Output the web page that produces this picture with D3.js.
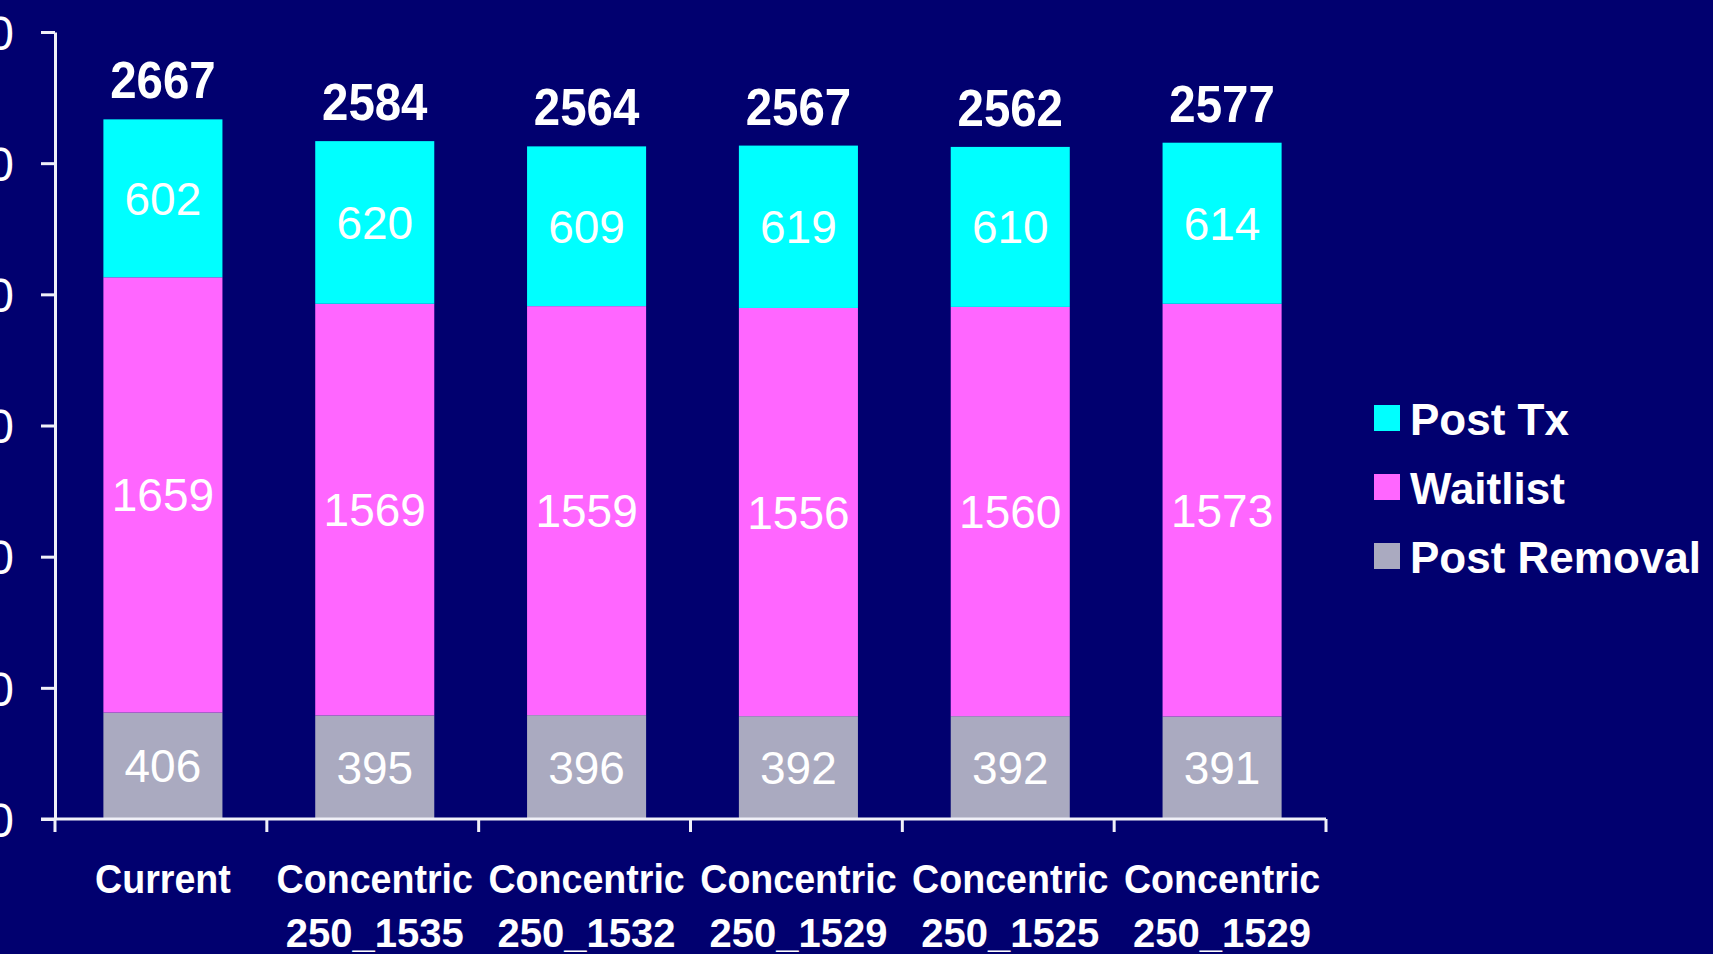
<!DOCTYPE html>
<html>
<head>
<meta charset="utf-8">
<script src="https://cdn.jsdelivr.net/npm/d3@7"></script>
<style>
  html, body { margin: 0; padding: 0; background: #01006F; }
  svg { display: block; }
  text { font-family: "Liberation Sans", Arial, sans-serif; fill: #FFFFFF; }
</style>
</head>
<body>
<script>
// ---- data ----
const categories = ["Current", "Concentric 250_1535", "Concentric 250_1532", "Concentric 250_1529", "Concentric 250_1525", "Concentric 250_1529 "];
const categoryLines = [["Current"], ["Concentric", "250_1535"], ["Concentric", "250_1532"], ["Concentric", "250_1529"], ["Concentric", "250_1525"], ["Concentric", "250_1529"]];
const postRemoval = [406, 395, 396, 392, 392, 391];
const waitlist = [1659, 1569, 1559, 1556, 1560, 1573];
const postTx = [602, 620, 609, 619, 610, 614];
const totals = [2667, 2584, 2564, 2567, 2562, 2577];
const yTicks = [0, 500, 1000, 1500, 2000, 2500, 3000];
const seriesNames = ["Post Removal", "Waitlist", "Post Tx"];
const seriesColors = ["#AAAAC0", "#FF66FF", "#00FFFF"];
const legendOrder = ["Post Tx", "Waitlist", "Post Removal"];

// ---- layout ----
const W = 1713, H = 954;
const svg = d3.select("body").append("svg").attr("width", W).attr("height", H);
svg.append("rect").attr("width", W).attr("height", H).attr("fill", "#01006F");

const x0 = 55, x1 = 1326, yTop = 32, yBot = 819;
const x = d3.scaleBand().domain(categories).range([x0 + 2, x1 + 2]).paddingInner(0.438).paddingOuter(0.219);
const y = d3.scaleLinear().domain([0, 3000]).range([yBot, yTop]);

const rows = categories.map((c, i) => ({cat: c, "Post Removal": postRemoval[i], "Waitlist": waitlist[i], "Post Tx": postTx[i]}));
const stack = d3.stack().keys(seriesNames)(rows);
const color = d3.scaleOrdinal().domain(seriesNames).range(seriesColors);

// bars
const layers = svg.append("g").selectAll("g").data(stack).join("g").attr("fill", d => color(d.key));
layers.selectAll("rect").data(d => d).join("rect")
  .attr("x", d => x(d.data.cat))
  .attr("width", x.bandwidth())
  .attr("y", d => y(d[1]))
  .attr("height", d => y(d[0]) - y(d[1]));

// text helper
function stxt(g, tx, ty, str, size, weight, sx, anchor) {
  return g.append("text")
    .attr("transform", `translate(${tx},${ty}) scale(${sx},1)`)
    .attr("text-anchor", anchor || "middle")
    .attr("font-size", size).attr("font-weight", weight).text(str);
}
// segment labels
const lbl = svg.append("g");
stack.forEach(layer => {
  layer.forEach(d => {
    const cx = x(d.data.cat) + x.bandwidth() / 2;
    const cy = (y(d[0]) + y(d[1])) / 2;
    stxt(lbl, cx, cy + 16.5, d[1] - d[0], 46, "normal", 1.0);
  });
});
// totals
categories.forEach((c, i) => {
  const top = y(postRemoval[i] + waitlist[i] + postTx[i]);
  stxt(lbl, x(c) + x.bandwidth() / 2, top - 21, totals[i], 51, "bold", 0.93);
});

// y axis
const yAxis = d3.axisLeft(y).tickValues(yTicks).tickSize(14).tickSizeOuter(0).tickPadding(27).tickFormat(d3.format("d"));
const ya = svg.append("g").attr("transform", `translate(${x0},0)`).call(yAxis);
ya.select(".domain").attr("stroke", "#F0F0F8").attr("stroke-width", 3);
ya.selectAll(".tick line").attr("stroke", "#F0F0F8").attr("stroke-width", 3);
ya.selectAll(".tick text").attr("font-size", 48).attr("font-family", "Liberation Sans, Arial, sans-serif")
  .attr("fill", "#FFFFFF").attr("dy", "0.36em");

// x axis line and boundary ticks
const xa = svg.append("g");
xa.append("line").attr("x1", x0 - 14).attr("x2", x1).attr("y1", yBot).attr("y2", yBot)
  .attr("stroke", "#F0F0F8").attr("stroke-width", 3);
d3.range(categories.length + 1).forEach(i => {
  const bx = x0 + i * x.step();
  xa.append("line").attr("x1", bx).attr("x2", bx).attr("y1", yBot).attr("y2", yBot + 13)
    .attr("stroke", "#F0F0F8").attr("stroke-width", 3);
});
// category labels
categories.forEach((c, i) => {
  const cx = x(c) + x.bandwidth() / 2;
  categoryLines[i].forEach((ln, j) => {
    stxt(xa, cx, 893 + j * 54, ln, 40, "bold", j === 0 ? 0.94 : 1.0);
  });
});

// legend
const leg = svg.append("g");
legendOrder.forEach((name, i) => {
  const ly = 405 + i * 69;
  leg.append("rect").attr("x", 1374).attr("y", ly).attr("width", 26).attr("height", 26)
    .attr("fill", color(name));
  leg.append("text").attr("x", 1410).attr("y", ly + 30).attr("font-size", 44).attr("font-weight", "bold").text(name);
});
</script>
</body>
</html>
